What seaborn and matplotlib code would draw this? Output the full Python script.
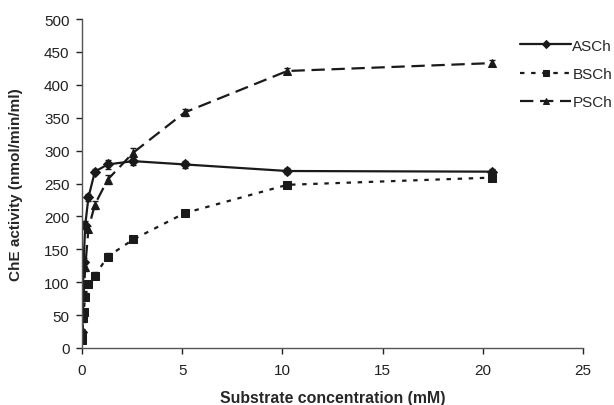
import numpy as np
import pandas as pd
import matplotlib
matplotlib.use("Agg")
import matplotlib.pyplot as plt
import seaborn as sns

# substrate concentrations (mM), doubling dilution series
conc = [0.01, 0.02, 0.04, 0.08, 0.16, 0.32, 0.64, 1.28, 2.56, 5.12, 10.24, 20.48]

# ChE activity (nmol/min/ml)
asch = [25, 48, 80, 131, 187, 229, 268, 279, 284, 279, 269, 268]
bsch = [12, 20, 45, 55, 78, 97, 110, 139, 165, 205, 248, 259]
psch = [15, 25, 50, 80, 123, 181, 218, 256, 297, 358, 421, 433]

# standard errors (rough)
asch_err = [3, 4, 5, 6, 6, 5, 4, 7, 6, 5, 4, 4]
bsch_err = [3, 4, 5, 5, 5, 5, 5, 5, 4, 4, 4, 5]
psch_err = [3, 4, 5, 6, 6, 5, 6, 7, 7, 5, 4, 5]

series = ["ASCh", "BSCh", "PSCh"]

df = pd.concat([
    pd.DataFrame({"conc": conc, "act": asch, "err": asch_err, "sub": "ASCh"}),
    pd.DataFrame({"conc": conc, "act": bsch, "err": bsch_err, "sub": "BSCh"}),
    pd.DataFrame({"conc": conc, "act": psch, "err": psch_err, "sub": "PSCh"}),
])

sns.set_style("ticks")
plt.rcParams["font.family"] = ["Liberation Sans", "DejaVu Sans"]

fig = plt.figure(figsize=(6.14, 4.06), dpi=100)
ax = fig.add_axes([0.1336, 0.1404, 0.816, 0.8103])

# line style per substrate
styles = {
    "ASCh": dict(marker="D", ms=4.8, dashes=None),
    "BSCh": dict(marker="s", ms=5.3, dashes=(2, 3)),
    "PSCh": dict(marker="^", ms=6, dashes=(6, 3)),
}

for s in series:
    d = df[df["sub"] == s]
    st = styles[s]
    ax.errorbar(d["conc"], d["act"], yerr=d["err"], fmt="none",
                ecolor="#1a1a1a", elinewidth=1, capsize=2.5, capthick=1)
    sns.lineplot(data=d, x="conc", y="act", ax=ax, color="#1a1a1a",
                 linewidth=1.6, marker=st["marker"], markersize=st["ms"],
                 markeredgecolor="#1a1a1a", label=s)
    line = ax.lines[-1]
    if st["dashes"] is not None:
        line.set_dashes(st["dashes"])

ax.set_xlim(0, 25)
ax.set_ylim(0, 500)
ax.set_xticks([0, 5, 10, 15, 20, 25])
ax.set_yticks(np.arange(0, 501, 50))
ax.tick_params(labelsize=11, colors="#222222", length=4, width=1)
ax.tick_params(axis="x", pad=7)
ax.tick_params(axis="y", pad=5)
for sp in ["left", "bottom"]:
    ax.spines[sp].set_color("#555555")
    ax.spines[sp].set_linewidth(1)
sns.despine(ax=ax)

ax.set_xlabel("Substrate concentration (mM)", fontsize=11.4, fontweight="bold", labelpad=9)
ax.set_ylabel("ChE activity (nmol/min/ml)", fontsize=11, fontweight="bold", labelpad=15)

leg = ax.legend(loc="upper left", bbox_to_anchor=(0.875, 0.94), frameon=False,
                fontsize=11, handlelength=3.3, handletextpad=0.1, markerscale=0.8,
                labelspacing=0.93, borderaxespad=0, borderpad=0)

fig.savefig("out.png", dpi=100)
